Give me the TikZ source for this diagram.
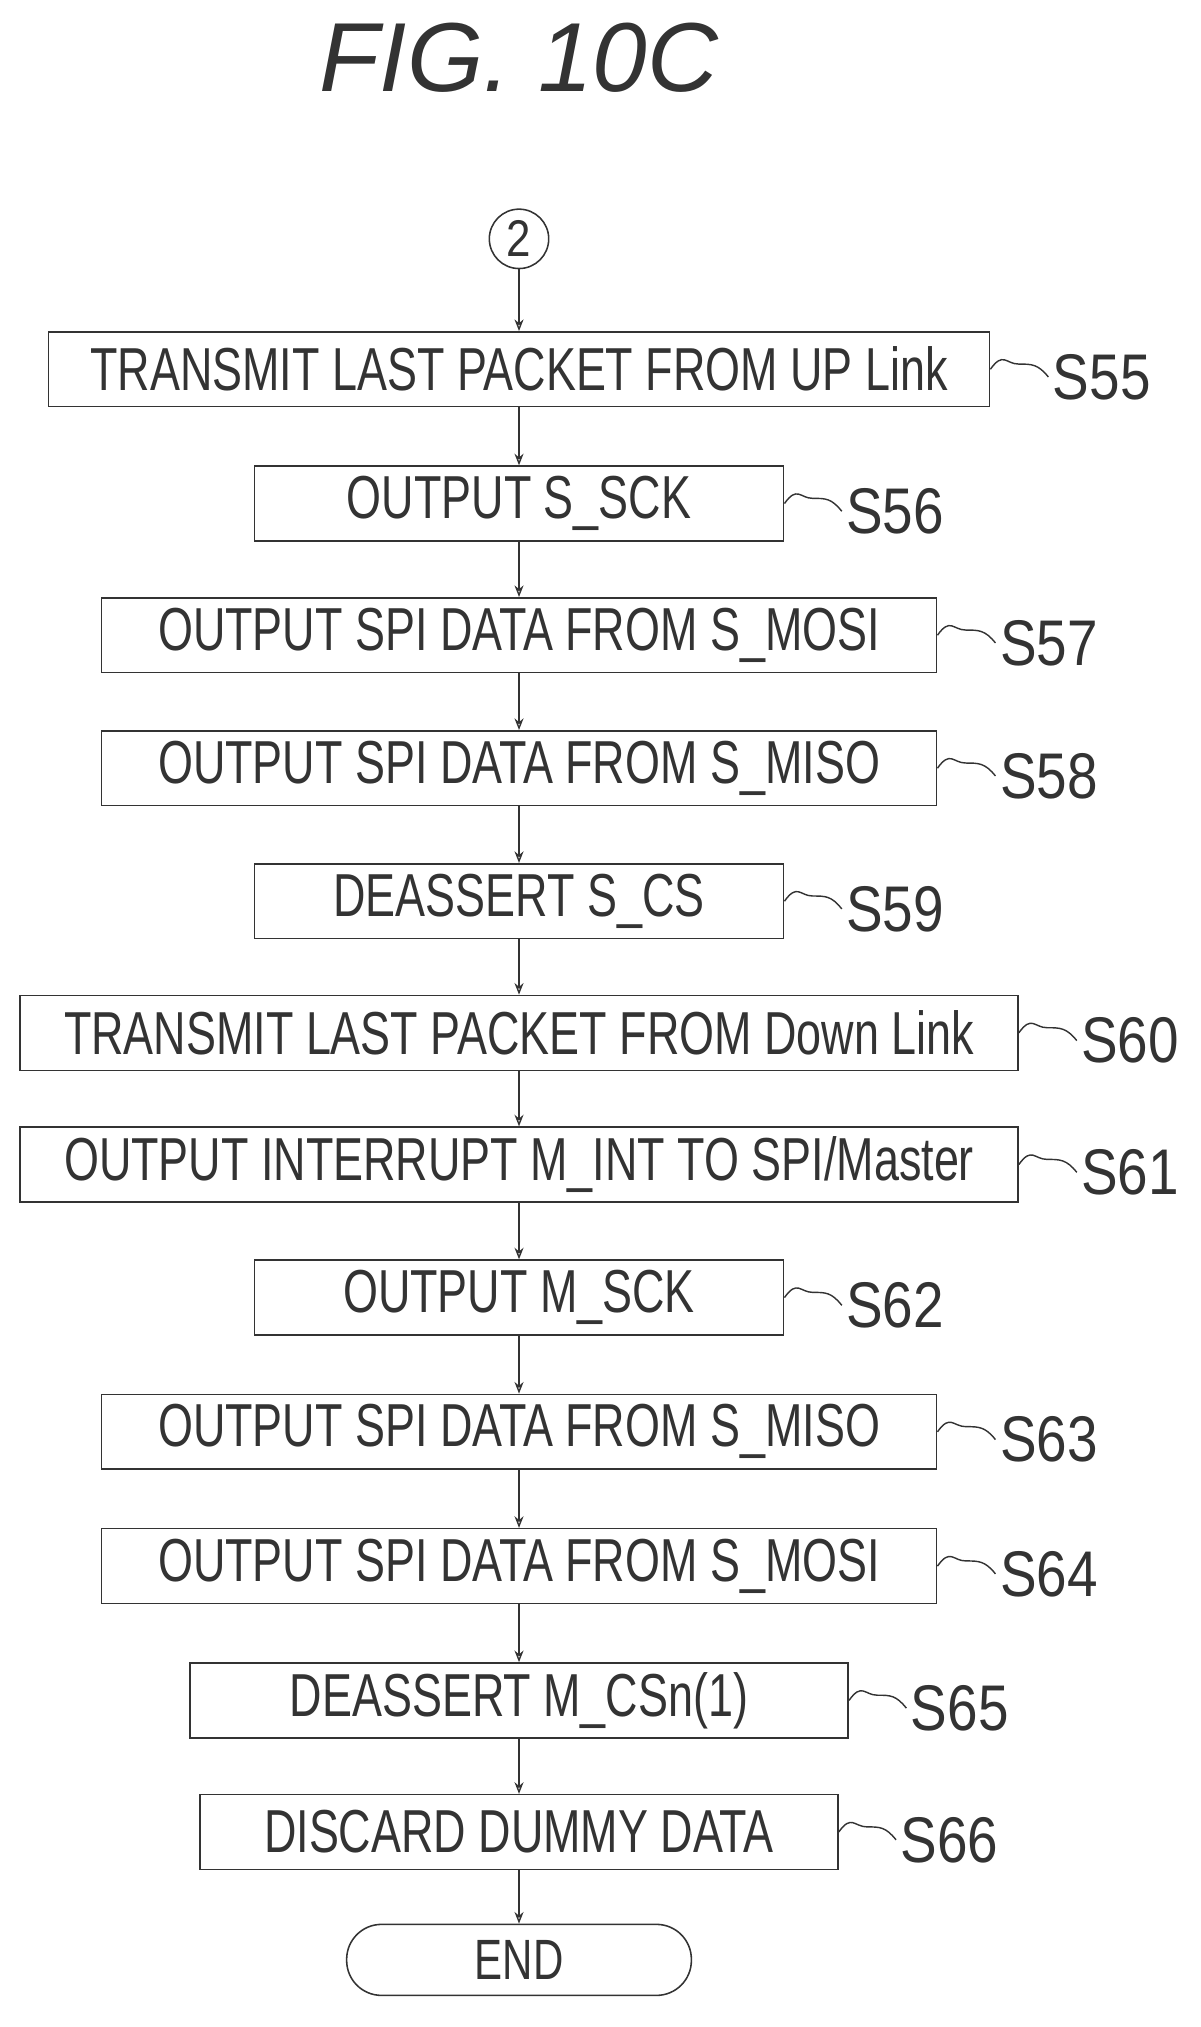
\documentclass[tikz,border=0pt]{standalone}
\usepackage{fontspec}
\setmainfont{Liberation Sans}
\newfontfamily\boxfont[FakeStretch=0.74]{Liberation Sans}
\newfontfamily\labfont[FakeStretch=0.85]{Liberation Sans}
\usetikzlibrary{arrows.meta,calc}
\begin{document}
\begin{tikzpicture}[x=1pt,y=-1pt,
  stepbox/.style={draw=black!80,line width=1.2pt,minimum height=58pt,inner sep=0pt,font=\boxfont\fontsize{47}{47}\selectfont,text=black!80},
  lab/.style={font=\labfont\fontsize{50}{50}\selectfont,anchor=west,text=black!80},
  arr/.style={draw=black!80,line width=1.1pt,-{Stealth[length=9pt,width=7pt,open]}},
  tld/.style={draw=black!80,line width=1.1pt}]
\useasboundingbox (0,0) rectangle (930,1570);
\node[font=\itshape\fontsize{76}{76}\selectfont,text=black!80] (title) at (402,45) {FIG. 10C};
\node[draw=black!80,line width=1.2pt,circle,minimum size=46pt,inner sep=0pt,font=\labfont\fontsize{40}{40}\selectfont,text=black!80] (c) at (402,185) {2};
\newcommand{\stp}[6]{%
  \node[stepbox,minimum width=#3pt] (#1) at (402,#2) {#4};
  \node[lab] (#1l) at (#5,#2+6) {#6};
  \draw[tld] (#1.east) .. controls +(10,-14) and +(-10,0) .. +(22,-4) .. controls +(10,0) and +(-8,-10) .. (#1l.west);
}
\stp{s55}{286}{729}{TRANSMIT LAST PACKET FROM UP Link}{812}{S55}
\stp{s56}{390}{410}{OUTPUT S\_SCK}{652}{S56}
\stp{s57}{492}{647}{OUTPUT SPI DATA FROM S\_MOSI}{771}{S57}
\stp{s58}{595}{647}{OUTPUT SPI DATA FROM S\_MISO}{771}{S58}
\stp{s59}{698}{410}{DEASSERT S\_CS}{652}{S59}
\stp{s60}{800}{773}{TRANSMIT LAST PACKET FROM Down Link}{834}{S60}
\stp{s61}{902}{773}{OUTPUT INTERRUPT M\_INT TO SPI/Master}{834}{S61}
\stp{s62}{1005}{410}{OUTPUT M\_SCK}{652}{S62}
\stp{s63}{1109}{647}{OUTPUT SPI DATA FROM S\_MISO}{771}{S63}
\stp{s64}{1213}{647}{OUTPUT SPI DATA FROM S\_MOSI}{771}{S64}
\stp{s65}{1317}{510}{DEASSERT M\_CSn(1)}{702}{S65}
\stp{s66}{1419}{494}{DISCARD DUMMY DATA}{694}{S66}
\node[draw=black!80,line width=1.2pt,rounded corners=27pt,minimum width=267pt,minimum height=55pt,font=\boxfont\fontsize{44}{44}\selectfont,text=black!80] (end) at (402,1518) {END};
\draw[arr] (c) -- (s55);
\foreach \a/\b in {s55/s56,s56/s57,s57/s58,s58/s59,s59/s60,s60/s61,s61/s62,s62/s63,s63/s64,s64/s65,s65/s66,s66/end}
  \draw[arr] (\a) -- (\b);
\end{tikzpicture}
\end{document}
